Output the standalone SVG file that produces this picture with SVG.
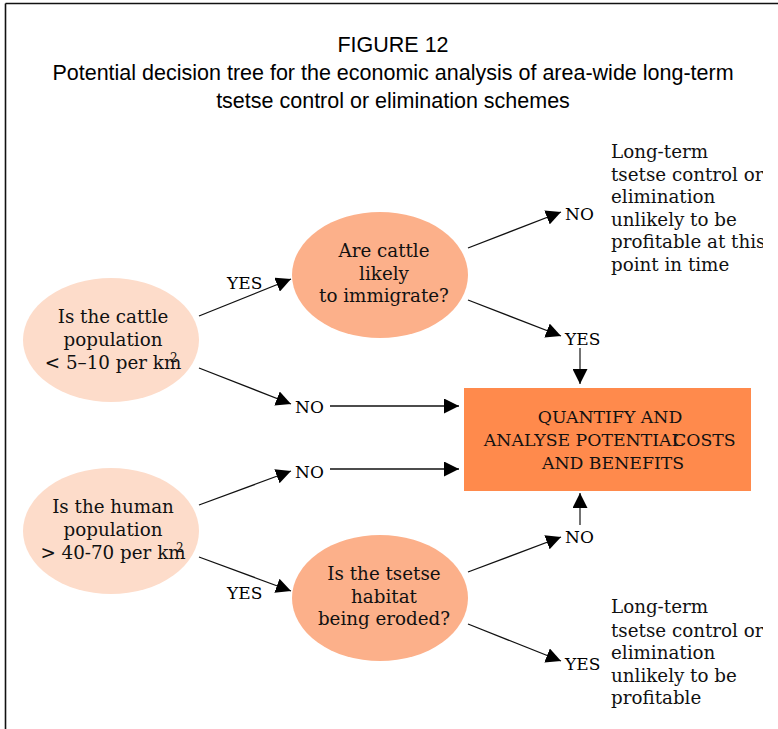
<svg xmlns="http://www.w3.org/2000/svg" width="778" height="729" viewBox="0 0 778 729">
<style>
.title{font-family:"Liberation Sans",Arial,sans-serif;font-size:21.5px;fill:#000;text-anchor:middle}
.t{font-family:"DejaVu Serif",serif;font-size:18.3px;fill:#111;text-anchor:middle}
.lab{font-family:"DejaVu Serif",serif;font-size:17px;fill:#000}
.side{font-family:"DejaVu Serif",serif;font-size:18.3px;fill:#111}
.box{font-family:"DejaVu Serif",serif;font-size:17.3px;fill:#111}
.sup{font-family:"DejaVu Serif",serif;font-size:12px;fill:#111}
.light{fill:#FDDCCA}
.mid{fill:#FCB08A}
.c{stroke:#111;stroke-width:1.3;fill:none}
.v{stroke:#444;stroke-width:1.5;fill:none}
</style>
<defs>
<marker id="ah" markerWidth="16" markerHeight="15" refX="15" refY="7.5" orient="auto" markerUnits="userSpaceOnUse">
<path d="M0,0 L15,7.5 L0,15 Z" fill="#000"/>
</marker>
<clipPath id="clipR"><rect x="0" y="0" width="763" height="729"/></clipPath>
</defs>
<rect width="778" height="729" fill="#fff"/>
<g id="frame">
<line x1="5.5" y1="3.5" x2="778" y2="3.5" stroke="#111" stroke-width="1.6"/>
<line x1="5.5" y1="3.5" x2="5.5" y2="729" stroke="#111" stroke-width="1.6"/>
</g>
<g id="title">
<text class="title" x="393" y="52">FIGURE 12</text>
<text class="title" x="393" y="80">Potential decision tree for the economic analysis of area-wide long-term</text>
<text class="title" x="393" y="108">tsetse control or elimination schemes</text>
</g>
<g id="connectors">
<line class="c" x1="199" y1="316" x2="291" y2="279" marker-end="url(#ah)"/>
<line class="c" x1="199" y1="368" x2="291" y2="404" marker-end="url(#ah)"/>
<line class="c" x1="330" y1="406" x2="459" y2="406" marker-end="url(#ah)"/>
<line class="c" x1="330" y1="469" x2="459" y2="469" marker-end="url(#ah)"/>
<line class="c" x1="199" y1="505" x2="291" y2="471" marker-end="url(#ah)"/>
<line class="c" x1="199" y1="557" x2="291" y2="591" marker-end="url(#ah)"/>
<line class="c" x1="468" y1="248" x2="561" y2="212" marker-end="url(#ah)"/>
<line class="c" x1="468" y1="300" x2="561" y2="336" marker-end="url(#ah)"/>
<line class="c" x1="468" y1="572" x2="561" y2="537" marker-end="url(#ah)"/>
<line class="c" x1="468" y1="624" x2="561" y2="661" marker-end="url(#ah)"/>
<line class="v" x1="580" y1="348" x2="580" y2="384" marker-end="url(#ah)"/>
<line class="v" x1="580" y1="525" x2="580" y2="493" marker-end="url(#ah)"/>
</g>
<g id="node-cattle">
<ellipse class="light" cx="111" cy="340" rx="88" ry="62"/>
<text class="t" x="113" y="323">Is the cattle</text>
<text class="t" x="113" y="346">population</text>
<text class="t" x="113" y="369">&lt; 5–10 per km</text>
<text class="sup" x="170" y="362">2</text>
</g>
<g id="node-human">
<ellipse class="light" cx="111" cy="531" rx="88" ry="63"/>
<text class="t" x="113" y="513">Is the human</text>
<text class="t" x="113" y="536">population</text>
<text class="t" x="113" y="559">&gt; 40-70 per km</text>
<text class="sup" x="176" y="552">2</text>
</g>
<g id="node-immigrate">
<ellipse class="mid" cx="380" cy="275" rx="88" ry="63"/>
<text class="t" x="384" y="257">Are cattle</text>
<text class="t" x="384" y="280">likely</text>
<text class="t" x="384" y="302">to immigrate?</text>
</g>
<g id="node-tsetse">
<ellipse class="mid" cx="380" cy="598" rx="88" ry="63"/>
<text class="t" x="384" y="580">Is the tsetse</text>
<text class="t" x="384" y="603">habitat</text>
<text class="t" x="384" y="625">being eroded?</text>
</g>
<g id="node-quantify">
<rect x="464" y="388" width="287" height="103" fill="#FF8A4C"/>
<text class="box" x="610" y="423" text-anchor="middle">QUANTIFY AND</text>
<text class="box" x="683" y="446" text-anchor="end">ANALYSE POTENTIAL</text>
<text class="box" x="673" y="446">COSTS</text>
<text class="box" x="613" y="469" text-anchor="middle">AND BENEFITS</text>
</g>
<g id="labels">
<text class="lab" x="227" y="289">YES</text>
<text class="lab" x="295" y="413">NO</text>
<text class="lab" x="295" y="478">NO</text>
<text class="lab" x="227" y="599">YES</text>
<text class="lab" x="565" y="220">NO</text>
<text class="lab" x="565" y="345">YES</text>
<text class="lab" x="565" y="543">NO</text>
<text class="lab" x="565" y="670">YES</text>
</g>
<g id="outcome-top" clip-path="url(#clipR)">
<text class="side" x="611" y="158">Long-term</text>
<text class="side" x="611" y="181">tsetse control or</text>
<text class="side" x="611" y="203">elimination</text>
<text class="side" x="611" y="226">unlikely to be</text>
<text class="side" x="611" y="248">profitable at this</text>
<text class="side" x="611" y="271">point in time</text>
</g>
<g id="outcome-bottom" clip-path="url(#clipR)">
<text class="side" x="611" y="613">Long-term</text>
<text class="side" x="611" y="637">tsetse control or</text>
<text class="side" x="611" y="659">elimination</text>
<text class="side" x="611" y="682">unlikely to be</text>
<text class="side" x="611" y="704">profitable</text>
</g>
</svg>
